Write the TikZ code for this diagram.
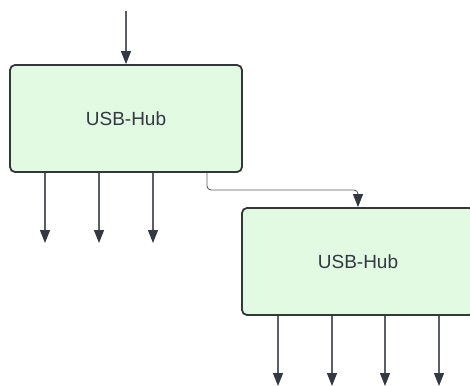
\documentclass[tikz,border=0pt]{standalone}
\usepackage{fontspec}
\setmainfont{Liberation Sans}
\usetikzlibrary{arrows.meta}
\definecolor{hubfill}{HTML}{E2F9E2}
\definecolor{hubdraw}{HTML}{33363B}
\definecolor{linec}{HTML}{5A5E66}
\definecolor{tipc}{HTML}{333842}
\begin{document}
\begin{tikzpicture}[x=1pt,y=-1pt,
  hub/.style={draw=hubdraw,fill=hubfill,line width=1.8pt,rounded corners=5pt,
    minimum width=232pt,minimum height=107pt,inner sep=0pt,
    text=tipc,font=\fontsize{19}{22}\selectfont},
  conn/.style={draw=linec,line width=1.2pt,
    -{Triangle[width=10pt,length=13pt,fill=tipc,color=tipc]}}]
\clip (0,0) rectangle (470,385);
\useasboundingbox (0,0) rectangle (470,385);
\node[hub] (h1) at (126,118.5) {USB-Hub};
\node[hub] (h2) at (358,261.5) {USB-Hub};
\coordinate (in) at (126,11);
\draw[conn] (in) -- (h1.north);
\foreach \x/\n in {45/a,99/b,153/c}{
  \coordinate (o\n) at (\x,243);
  \draw[conn] (h1.south -| o\n) -- (o\n);
}
\foreach \x/\n in {278/d,332/e,385/f,439/g}{
  \coordinate (o\n) at (\x,386);
  \draw[conn] (h2.south -| o\n) -- (o\n);
}
\coordinate (k) at (207,190);
\draw[conn,line width=0.9pt,rounded corners=4pt] (h1.south -| k) -- (k) -| (h2.north);
\end{tikzpicture}
\end{document}
